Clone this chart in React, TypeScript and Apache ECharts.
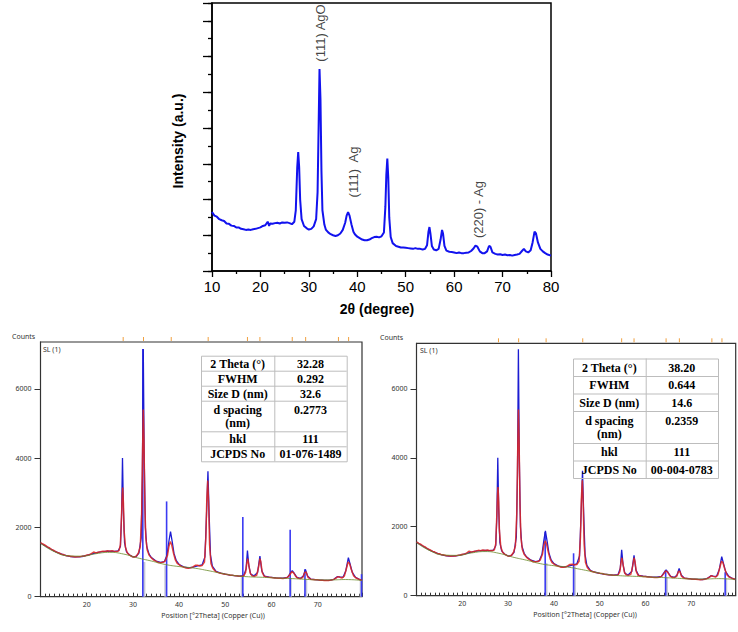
import { useEffect, useRef } from "react";
import * as echarts from "echarts";

// ---------- Top panel: XRD pattern (arbitrary units) ----------
const topPattern: [number, number][] = [
  [10, 1.65], [10.5, 1.55], [11, 1.52], [11.5, 1.45], [12, 1.42], [12.5, 1.4], [13, 1.33], [13.5, 1.32],
  [14, 1.27], [14.5, 1.26], [15, 1.22], [15.5, 1.22], [16, 1.18], [16.5, 1.17], [17, 1.15], [17.5, 1.16],
  [18, 1.15], [18.5, 1.17], [19, 1.18], [19.5, 1.2], [20, 1.22], [20.5, 1.26], [21, 1.28], [21.5, 1.38],
  [21.8, 1.26], [22, 1.33], [22.5, 1.32], [23, 1.34], [23.5, 1.35], [24, 1.33], [24.5, 1.36], [25, 1.35],
  [25.5, 1.36], [26, 1.34], [26.5, 1.31], [27, 1.38], [27.3, 1.7], [27.6, 2.9], [27.8, 3.33], [28, 2.9],
  [28.2, 2.0], [28.5, 1.45], [29, 1.26], [29.5, 1.2], [30, 1.16], [30.5, 1.18], [31, 1.25], [31.5, 1.45],
  [31.8, 2.2], [32, 3.9], [32.2, 5.65], [32.4, 4.8], [32.6, 2.8], [32.8, 1.7], [33.2, 1.3], [33.5, 1.16],
  [34, 1.08], [34.5, 1.03], [35, 1.0], [35.5, 0.98], [36, 1.0], [36.5, 1.05], [37, 1.15], [37.5, 1.35],
  [37.8, 1.55], [38.1, 1.65], [38.4, 1.55], [38.8, 1.3], [39.2, 1.1], [39.5, 1.03], [40, 0.96], [40.5, 0.92],
  [41, 0.88], [41.5, 0.86], [42, 0.86], [42.5, 0.88], [43, 0.92], [43.5, 0.95], [44, 0.96], [44.5, 0.94],
  [45, 0.97], [45.5, 1.08], [45.8, 1.8], [46, 2.7], [46.2, 3.15], [46.4, 2.6], [46.6, 1.5], [46.9, 0.95],
  [47.3, 0.78], [48, 0.7], [48.5, 0.68], [49, 0.66], [49.5, 0.66], [50, 0.65], [50.5, 0.64], [51, 0.63],
  [51.5, 0.62], [52, 0.64], [52.5, 0.62], [53, 0.62], [53.5, 0.6], [54, 0.62], [54.4, 0.72], [54.7, 1.1],
  [54.9, 1.23], [55.1, 1.05], [55.4, 0.7], [55.8, 0.6], [56.3, 0.58], [56.8, 0.62], [57.2, 0.88], [57.5, 1.15],
  [57.7, 1.05], [58, 0.7], [58.4, 0.57], [59, 0.54], [59.5, 0.53], [60, 0.52], [60.5, 0.5], [61, 0.52],
  [61.5, 0.5], [62, 0.5], [62.5, 0.51], [63, 0.52], [63.5, 0.56], [64, 0.63], [64.4, 0.71], [64.8, 0.68],
  [65.3, 0.55], [65.8, 0.5], [66.3, 0.5], [66.8, 0.55], [67.2, 0.7], [67.5, 0.68], [67.9, 0.52], [68.5, 0.48],
  [69, 0.46], [69.5, 0.47], [70, 0.45], [70.5, 0.46], [71, 0.44], [71.5, 0.45], [72, 0.43], [72.5, 0.45],
  [73, 0.46], [73.5, 0.48], [74, 0.56], [74.4, 0.62], [74.8, 0.55], [75.3, 0.52], [75.8, 0.58], [76.2, 0.8],
  [76.6, 1.1], [76.9, 1.05], [77.3, 0.8], [77.8, 0.62], [78.3, 0.55], [78.8, 0.5], [79.3, 0.46], [80, 0.43],
];
const annText = ["(111) AgO", "(111)  Ag", "(220) - Ag"];
const annX = [32.5, 39.2, 65.0];
const annY = [6.66, 2.77, 1.72];

// ---------- Bottom panels: observed / calculated / background (counts) ----------
const observedCounts: [number, number][] = [
  [10, 1560], [10.5, 1520], [11, 1485], [11.5, 1440], [12, 1405], [12.5, 1355], [13, 1325], [13.5, 1285],
  [14, 1265], [14.5, 1225], [15, 1215], [15.5, 1185], [16, 1180], [16.5, 1160], [17, 1160], [17.5, 1145],
  [18, 1155], [18.5, 1150], [19, 1170], [19.5, 1175], [20, 1200], [20.5, 1205], [21, 1245], [21.5, 1290],
  [22, 1262], [22.5, 1285], [23, 1298], [23.5, 1315], [24, 1302], [24.5, 1324], [25, 1312], [25.5, 1328],
  [26, 1308], [26.5, 1302], [27, 1330], [27.3, 1500], [27.5, 2200], [27.7, 2950], [27.8, 3150], [27.95, 2700],
  [28.1, 1900], [28.4, 1420], [28.8, 1260], [29.3, 1200], [29.8, 1160], [30.3, 1140], [30.8, 1180], [31.2, 1260],
  [31.6, 1450], [31.9, 2400], [32.1, 4200], [32.25, 5400], [32.4, 4500], [32.6, 2600], [32.8, 1700], [33.1, 1350],
  [33.5, 1200], [34, 1120], [34.5, 1060], [35, 1025], [35.5, 985], [36, 982], [36.5, 992], [37, 1030],
  [37.5, 1200], [37.8, 1450], [38.1, 1590], [38.4, 1500], [38.8, 1250], [39.2, 1060], [39.6, 960], [40, 925],
  [40.5, 875], [41, 855], [41.5, 828], [42, 822], [42.5, 832], [43, 862], [43.5, 905], [44, 910],
  [44.5, 888], [45, 902], [45.5, 1000], [45.8, 1700], [46, 2800], [46.2, 3350], [46.4, 2700], [46.6, 1500],
  [46.9, 960], [47.3, 820], [47.8, 740], [48.3, 702], [49, 678], [49.5, 662], [50, 648], [50.5, 642],
  [51, 622], [51.5, 618], [52, 608], [52.5, 602], [53, 592], [53.5, 592], [54, 600], [54.4, 700],
  [54.7, 1000], [54.85, 1100], [55.05, 950], [55.4, 680], [55.8, 600], [56.3, 590], [56.8, 620], [57.2, 850],
  [57.5, 1100], [57.7, 1000], [58, 700], [58.4, 590], [59, 572], [59.5, 558], [60, 556], [60.5, 543],
  [61, 542], [61.5, 533], [62, 531], [62.5, 528], [63, 537], [63.5, 560], [64, 640], [64.4, 720],
  [64.8, 690], [65.3, 580], [65.8, 530], [66.3, 525], [66.8, 560], [67.2, 700], [67.5, 710], [67.9, 560],
  [68.5, 505], [69, 497], [69.5, 488], [70, 486], [70.5, 478], [71, 476], [71.5, 468], [72, 466],
  [72.5, 471], [73, 480], [73.5, 500], [74, 540], [74.4, 580], [74.8, 560], [75.3, 540], [75.8, 600],
  [76.2, 800], [76.6, 1000], [76.9, 960], [77.3, 780], [77.8, 600], [78.3, 540], [78.8, 510], [79.2, 490],
  [79.6, 470],
];
const calculatedCounts: [number, number][] = [
  [10, 1550], [11, 1470], [12, 1390], [13, 1315], [14, 1255], [15, 1205], [16, 1170], [17, 1150],
  [18, 1148], [19, 1160], [20, 1190], [21, 1230], [22, 1265], [23, 1295], [24, 1310], [25, 1315],
  [26, 1310], [26.8, 1320], [27.3, 1450], [27.55, 2300], [27.75, 4000], [27.95, 2500], [28.2, 1550], [28.6, 1300],
  [29.2, 1210], [30, 1150], [30.7, 1160], [31.3, 1260], [31.8, 1700], [32.05, 3500], [32.25, 7150], [32.45, 4000],
  [32.7, 2000], [33, 1450], [33.5, 1230], [34, 1130], [35, 1030], [36, 990], [36.8, 1010], [37.4, 1200],
  [37.8, 1600], [38.15, 1880], [38.5, 1600], [38.9, 1250], [39.4, 1040], [40, 930], [41, 860], [42, 830],
  [43, 850], [44, 890], [45, 920], [45.6, 1150], [45.95, 2400], [46.25, 3620], [46.5, 2400], [46.8, 1200],
  [47.2, 880], [48, 730], [49, 680], [50, 650], [51, 625], [52, 608], [53, 595], [54, 610],
  [54.5, 800], [54.8, 1330], [55.1, 900], [55.5, 650], [56.2, 600], [57, 700], [57.5, 1170], [57.9, 750],
  [58.5, 590], [59.5, 565], [61, 545], [62.5, 535], [63.5, 560], [64.2, 700], [64.5, 750], [64.9, 680],
  [65.5, 560], [66.3, 530], [66.9, 600], [67.35, 790], [67.8, 600], [68.5, 510], [70, 485], [71.5, 472],
  [72.5, 470], [73.5, 500], [74.3, 580], [74.8, 570], [75.5, 560], [76.1, 750], [76.65, 1130], [77, 950],
  [77.5, 700], [78.2, 560], [79, 500], [79.6, 475],
];
const backgroundCounts: [number, number][] = [
  [10, 1540], [13, 1300], [16, 1180], [19, 1170], [22, 1240], [25, 1280], [28, 1230], [31, 1120],
  [34, 1030], [37, 930], [40, 870], [43, 830], [46, 760], [49, 680], [52, 610], [55, 575],
  [58, 560], [61, 540], [64, 525], [67, 505], [70, 485], [73, 485], [76, 495], [79.6, 470],
];
const peakPositions = [27.9, 32.3, 38.3, 46.3, 54.8, 57.5, 64.5, 67.4, 74.5, 76.7];

// Reference sticks: AgO (01-076-1489) and Ag (00-004-0783)
const agoStickX = [32.15, 37.3, 53.8, 64.05, 67.25, 79.5];
const agoStickH = [7150, 2750, 2300, 1930, 790, 650];
const agoBandX = [32.45, 37.05, 53.6, 64.15, 67.5, 79.35];
const agoBandH = [1000, 900, 600, 530, 510, 470];
const agStickX = [38.1, 44.3, 64.4, 77.4];
const agStickH = [1850, 1230, 745, 680];
const agBandX = [38.35, 44.55, 64.65, 77.6];
const agBandH = [950, 850, 530, 500];

// Tables
const tableLabels = ["2 Theta (°)", "FWHM", "Size D (nm)", "d spacing|(nm)", "hkl", "JCPDS No"];
const agoValues = ["32.28", "0.292", "32.6", "0.2773", "111", "01-076-1489"];
const agValues = ["38.20", "0.644", "14.6", "0.2359", "111", "00-004-0783"];

const W = 738;
const H = 632;

function tableGraphics(x0: number, xm: number, x1: number, rows: number[], values: string[]) {
  const els: any[] = [];
  const top = rows[0];
  const bottom = rows[rows.length - 1];
  const stroke = "#bdbdbd";
  els.push({
    type: "rect",
    shape: { x: x0 + 0.5, y: top + 0.5, width: x1 - x0, height: bottom - top },
    style: { fill: "rgba(255,255,255,0)", stroke, lineWidth: 1 },
    z: 10,
  });
  for (let i = 1; i < rows.length - 1; i++) {
    els.push({
      type: "line",
      shape: { x1: x0, y1: rows[i] + 0.5, x2: x1, y2: rows[i] + 0.5 },
      style: { stroke, lineWidth: 1 },
      z: 10,
    });
  }
  els.push({
    type: "line",
    shape: { x1: xm + 0.5, y1: top, x2: xm + 0.5, y2: bottom },
    style: { stroke, lineWidth: 1 },
    z: 10,
  });
  const cL = (x0 + xm) / 2;
  const cR = (xm + x1) / 2;
  const font = { fontSize: 12, fontWeight: "bold", fontFamily: "Liberation Serif", fill: "#000" };
  const al = { align: "center", verticalAlign: "middle", textAlign: "center", textVerticalAlign: "middle" };
  for (let i = 0; i < tableLabels.length; i++) {
    const rt = rows[i];
    const rh = rows[i + 1] - rows[i];
    const parts = tableLabels[i].split("|");
    if (parts.length === 2) {
      const y1 = rt + rh * 0.32;
      const y2 = rt + rh * 0.73;
      els.push({ type: "text", x: cL, y: y1, style: { text: parts[0], ...font, ...al }, z: 11 });
      els.push({ type: "text", x: cL, y: y2, style: { text: parts[1], ...font, ...al }, z: 11 });
      els.push({ type: "text", x: cR, y: y1, style: { text: values[i], ...font, ...al }, z: 11 });
    } else {
      const yc = rt + rh / 2 + 0.5;
      els.push({ type: "text", x: cL, y: yc, style: { text: parts[0], ...font, ...al }, z: 11 });
      els.push({ type: "text", x: cR, y: yc, style: { text: values[i], ...font, ...al }, z: 11 });
    }
  }
  return els;
}

function smallText(text: string, x: number, y: number, align = "left") {
  return {
    type: "text",
    x,
    y,
    style: {
      text,
      fontSize: 7,
      fontFamily: "Noto Sans",
      fill: "#333",
      align,
      verticalAlign: "middle",
      textAlign: align,
      textVerticalAlign: "middle",
    },
  };
}

function panelSeries(idx: number, stickX: number[], stickH: number[], bandX: number[], bandH: number[], ymax: number) {
  const xAxisIndex = idx;
  const yAxisIndex = idx;
  return [
    {
      type: "custom",
      xAxisIndex,
      yAxisIndex,
      data: bandX.map((x, i) => [x, bandH[i]]),
      renderItem: (_p: any, api: any) => {
        const x = api.value(0);
        const h = api.value(1);
        const a = api.coord([x - 0.25, h]);
        const b = api.coord([x + 0.25, 0]);
        return {
          type: "rect",
          shape: { x: a[0], y: a[1], width: b[0] - a[0], height: b[1] - a[1] },
          style: { fill: "#c6c8d6" },
        };
      },
      z: 2,
    },
    {
      type: "custom",
      xAxisIndex,
      yAxisIndex,
      data: stickX.map((x, i) => [x, stickH[i]]),
      renderItem: (_p: any, api: any) => {
        const x = api.value(0);
        const h = api.value(1);
        const a = api.coord([x, 0]);
        const b = api.coord([x, h]);
        return {
          type: "line",
          shape: { x1: a[0], y1: a[1], x2: b[0], y2: b[1] },
          style: { stroke: "#3b3bf2", lineWidth: 1.6 },
        };
      },
      z: 3,
    },
    {
      type: "line",
      xAxisIndex,
      yAxisIndex,
      data: calculatedCounts,
      showSymbol: false,
      lineStyle: { color: "#1c1cd2", width: 1.3 },
      z: 4,
    },
    {
      type: "line",
      xAxisIndex,
      yAxisIndex,
      data: observedCounts,
      showSymbol: false,
      lineStyle: { color: "#e3261c", width: 1.5, opacity: 0.85 },
      z: 5,
    },
    {
      type: "line",
      xAxisIndex,
      yAxisIndex,
      data: backgroundCounts,
      showSymbol: false,
      smooth: true,
      lineStyle: { color: "#6a8a2a", width: 0.8 },
      z: 6,
    },
    {
      type: "custom",
      xAxisIndex,
      yAxisIndex,
      data: peakPositions.map((x) => [x, ymax]),
      renderItem: (_p: any, api: any) => {
        const p = api.coord([api.value(0), api.value(1)]);
        return {
          type: "line",
          shape: { x1: p[0], y1: p[1] - 5, x2: p[0], y2: p[1] - 1 },
          style: { stroke: "#f0a040", lineWidth: 1 },
        };
      },
      z: 6,
    },
  ];
}

export default function App() {
  const ref = useRef<HTMLDivElement>(null);
  useEffect(() => {
    document.body.style.margin = "0";
    if (!ref.current) return;
    const chart = echarts.init(ref.current, undefined, { renderer: "svg" });

    const leftMax = 7350;
    const rightMax = 7320;

    const bottomX = (min: number, max: number, grid: number) => ({
      type: "value",
      gridIndex: grid,
      min,
      max,
      interval: 10,
      axisLine: { show: true, lineStyle: { color: "#333", width: 1 } },
      axisTick: { show: true, inside: true, length: 4, lineStyle: { color: "#333" } },
      minorTick: { show: true, splitNumber: 10, length: 3, lineStyle: { color: "#333" } },
      axisLabel: { showMinLabel: false, showMaxLabel: false, fontSize: 7, fontFamily: "Noto Sans", color: "#333", margin: 4 },
      splitLine: { show: false },
    });
    const bottomY = (max: number, grid: number) => ({
      type: "value",
      gridIndex: grid,
      min: 0,
      max,
      interval: 2000,
      axisLine: { show: true, lineStyle: { color: "#333", width: 1 } },
      axisTick: { show: true, length: 6, lineStyle: { color: "#333" } },
      axisLabel: {
        showMaxLabel: false,
        fontSize: 7,
        fontFamily: "Noto Sans",
        color: "#333",
        margin: 9,
        formatter: (v: number) => String(v),
      },
      splitLine: { show: false },
    });

    const option: any = {
      animation: false,
      backgroundColor: "#fff",
      grid: [
        { left: 212, top: 3, width: 339, height: 268, show: true, borderColor: "#000", borderWidth: 1.5, backgroundColor: "transparent" },
        { left: 40.5, top: 342, width: 321.5, height: 254.7, show: true, borderColor: "#333", borderWidth: 1.2, backgroundColor: "transparent" },
        { left: 416.5, top: 343.3, width: 319.2, height: 252.4, show: true, borderColor: "#333", borderWidth: 1.2, backgroundColor: "transparent" },
      ],
      xAxis: [
        {
          type: "value",
          gridIndex: 0,
          min: 10,
          max: 80,
          interval: 10,
          axisLine: { show: true, lineStyle: { color: "#000", width: 1.5 } },
          axisTick: { show: true, length: 6, lineStyle: { color: "#000", width: 1.3 } },
          minorTick: { show: true, splitNumber: 2, length: 3, lineStyle: { color: "#000", width: 1.3 } },
          axisLabel: { fontSize: 15, fontFamily: "Liberation Sans", color: "#000", margin: 8 },
          splitLine: { show: false },
        },
        bottomX(10, 79.6, 1),
        bottomX(10, 79.7, 2),
      ],
      yAxis: [
        {
          type: "value",
          gridIndex: 0,
          min: 0,
          max: 7.5,
          interval: 0.5,
          axisLine: { show: true, lineStyle: { color: "#000", width: 1.5 } },
          axisTick: { show: true, length: 4, lineStyle: { color: "#000", width: 1.3 } },
          axisLabel: { show: false },
          splitLine: { show: false },
        },
        bottomY(leftMax, 1),
        bottomY(rightMax, 2),
        {
          type: "value",
          gridIndex: 0,
          position: "left",
          min: 0,
          max: 7.5,
          interval: 1,
          axisLine: { show: false },
          axisTick: { show: true, length: 9, lineStyle: { color: "#000", width: 1.3 } },
          axisLabel: { show: false },
          splitLine: { show: false },
        },
      ],
      series: [
        {
          type: "line",
          xAxisIndex: 0,
          yAxisIndex: 0,
          data: topPattern,
          showSymbol: false,
          lineStyle: { color: "#1212ee", width: 2 },
        },
        {
          type: "scatter",
          xAxisIndex: 0,
          yAxisIndex: 0,
          symbolSize: 0,
          data: annX.map((x, i) => ({ value: [x, annY[i]], name: annText[i] })),
          label: {
            show: true,
            position: "inside",
            rotate: 90,
            formatter: (p: any) => p.name,
            fontSize: 13,
            fontFamily: "Liberation Sans",
            color: "#111",
          },
        },
        ...panelSeries(1, agoStickX, agoStickH, agoBandX, agoBandH, leftMax),
        ...panelSeries(2, agStickX, agStickH, agBandX, agBandH, rightMax),
      ],
      graphic: [
        {
          type: "text",
          x: 178,
          y: 141,
          rotation: Math.PI / 2,
          style: {
            text: "Intensity (a.u.)",
            fontSize: 14,
            fontWeight: "bold",
            fontFamily: "Liberation Sans",
            fill: "#000",
            align: "center",
            verticalAlign: "middle",
            textAlign: "center",
            textVerticalAlign: "middle",
          },
        },
        {
          type: "text",
          x: 377,
          y: 309,
          style: {
            text: "2θ (degree)",
            fontSize: 14,
            fontWeight: "bold",
            fontFamily: "Liberation Sans",
            fill: "#000",
            align: "center",
            verticalAlign: "middle",
            textAlign: "center",
            textVerticalAlign: "middle",
          },
        },
        smallText("Counts", 12, 336),
        smallText("Counts", 380, 337.7),
        smallText("SL (1)", 43, 349),
        smallText("SL (1)", 420, 350),
        smallText("Position [°2Theta] (Copper (Cu))", 213, 615, "center"),
        smallText("Position [°2Theta] (Copper (Cu))", 585, 614, "center"),
        ...tableGraphics(201, 274.3, 346.7, [355.7, 370.7, 385.7, 400.7, 431.3, 446.3, 461.3], agoValues),
        ...tableGraphics(573, 645.7, 718, [358.5, 376, 393.5, 411, 443, 460.5, 478], agValues),
      ],
    };
    chart.setOption(option);
    return () => chart.dispose();
  }, []);
  return <div ref={ref} style={{ width: W, height: H }} />;
}
